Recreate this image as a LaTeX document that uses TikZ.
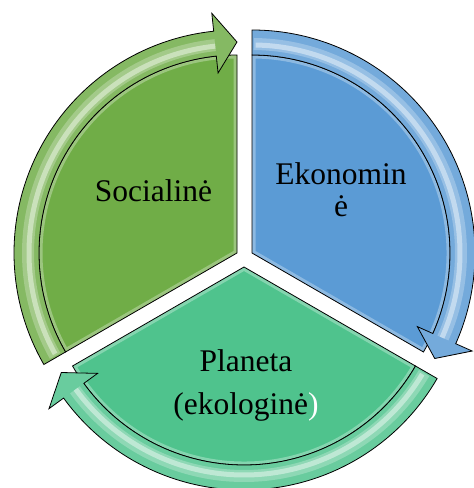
\documentclass[tikz,border=0pt]{standalone}
\usepackage{fontspec}
\setmainfont{Liberation Serif}
\definecolor{secgreen}{HTML}{70AD47}
\definecolor{secblue}{HTML}{5B9BD5}
\definecolor{secteal}{HTML}{4FC38D}
\newcommand\cycsector[4]{% apex, start, end, colour
  \begin{scope}[shift={#1}]
    \fill[#4] (0,0) -- (#2:198) arc[start angle=#2, end angle=#3, radius=198] -- cycle;
    \begin{scope}
      \clip (0,0) -- (#2:198) arc[start angle=#2, end angle=#3, radius=198] -- cycle;
      \draw[white, opacity=.3, line width=7] (0,0) -- (#2:198) arc[start angle=#2, end angle=#3, radius=198] -- cycle;
    \end{scope}
    \draw[black, line width=0.8] (0,0) -- (#2:198) arc[start angle=#2, end angle=#3, radius=198] -- cycle;
  \end{scope}}
\newcommand\cycband[4]{% apex, start angle, tip angle, colour
  \begin{scope}[shift={#1}]
    \fill[#4!85!white] (#2:198) arc[start angle=#2, end angle=#3+6, radius=198]
      -- (#3+6:181) -- (#3:211) -- (#3+6:241) -- (#3+6:223)
      arc[start angle=#3+6, end angle=#2, radius=223] -- cycle;
    \draw[#4!55!white, line width=12, opacity=.7] (#2-0.5:209) arc[start angle=#2-0.5, end angle=#3+6, radius=209];
    \draw[#4!25!white, line width=5, opacity=.7] (#2-1:208) arc[start angle=#2-1, end angle=#3+6, radius=208];
    \draw[black, line width=0.8, line join=miter] (#2:198) arc[start angle=#2, end angle=#3+6, radius=198]
      -- (#3+6:181) -- (#3:211) -- (#3+6:241) -- (#3+6:223)
      arc[start angle=#3+6, end angle=#2, radius=223] -- cycle;
  \end{scope}}
\begin{document}
\begin{tikzpicture}[x=1pt, y=1pt,
  lbl/.style={font=\fontsize{31.5}{32}\selectfont, text=black, align=center, inner sep=0pt}]
\useasboundingbox (0,0) rectangle (474,488);
\coordinate (gA) at (237,235);
\coordinate (bA) at (252,235);
\coordinate (tA) at (244,221);
% sectors
\cycsector{(gA)}{90}{210}{secgreen}
\cycsector{(bA)}{-30}{90}{secblue}
\cycsector{(tA)}{210}{330}{secteal}
% arrow bands
\cycband{(gA)}{210}{90}{secgreen}
\cycband{(bA)}{90}{-30}{secblue}
\cycband{(tA)}{330}{210}{secteal}
% labels (base anchor = baseline of the last line)
\node[lbl, anchor=base] (soc) at (153.5,286) {Socialinė};
\node[lbl, anchor=base] (eko) at (341,271) {Ekonomin\\ė};
\node[lbl, anchor=base] (pla) at (246,73) {Planeta\\[11pt](ekologinė\textcolor{white}{)}};
\end{tikzpicture}
\end{document}
